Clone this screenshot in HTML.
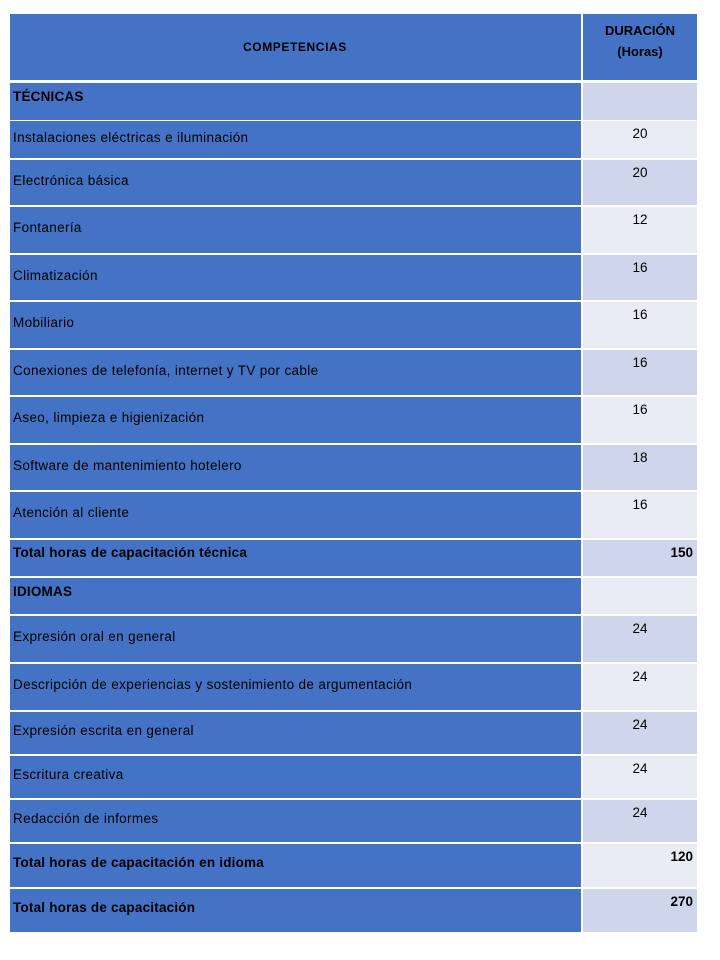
<!DOCTYPE html>
<html><head><meta charset="utf-8"><style>
body{margin:0;width:720px;height:960px;background:#fff;font-family:"Liberation Sans",sans-serif;font-size:13.5px;color:#000;position:relative;overflow:hidden}
.c{position:absolute;box-sizing:border-box}
.l{left:10px;width:571px;background:#4472C4}
.r{left:583px;width:114px}
.d{background:#CFD5EA}.e{background:#E9EBF5}
.t{position:absolute;white-space:nowrap}
.lt{letter-spacing:0.35px}
</style></head><body>
<div class="c l" style="top:14px;height:66px"></div>
<div class="c r" style="top:14px;height:66px;background:#4472C4"></div>
<div class="t" style="left:243px;top:40px;font-weight:bold;font-size:12px;letter-spacing:0.6px">COMPETENCIAS</div>
<div class="t" style="left:583px;width:114px;text-align:center;top:20px;font-weight:bold;font-size:13px;line-height:21px">DURACIÓN<br>(Horas)</div>
<div id="rows"></div>
<script>
var R=[
[83,120,"TÉCNICAS","",1],
[121,158,"Instalaciones eléctricas e iluminación","20",0],
[160,205,"Electrónica básica","20",0],
[207,253,"Fontanería","12",0],
[255,300,"Climatización","16",0],
[302,348,"Mobiliario","16",0],
[350,395,"Conexiones de telefonía, internet y TV por cable","16",0],
[397,443,"Aseo, limpieza e higienización","16",0],
[445,490,"Software de mantenimiento hotelero","18",0],
[492,538,"Atención al cliente","16",0],
[540,576,"Total horas de capacitación técnica","150",2],
[578,614,"IDIOMAS","",1],
[616,662,"Expresión oral en general","24",0],
[664,710,"Descripción de experiencias y sostenimiento de argumentación","24",0],
[712,754,"Expresión escrita en general","24",0],
[756,798,"Escritura creativa","24",0],
[800,842,"Redacción de informes","24",0],
[844,887,"Total horas de capacitación en idioma","120",2],
[889,932,"Total horas de capacitación","270",2]];
var h="";
R.forEach(function(r,i){
var top=r[0],ht=r[1]-r[0];
h+='<div class="c l" style="top:'+top+'px;height:'+ht+'px"></div>';
h+='<div class="c r '+(i%2?'e':'d')+'" style="top:'+top+'px;height:'+ht+'px"></div>';
var ty;
if(r[4]==1) ty=top+6; else if(r[4]==2) ty=top+Math.round(ht/2)-11; else ty=top+Math.round(ht/2)-10;
if(r[4]==2 && ht<40) ty=top+5;
h+='<div class="t lt" style="left:13px;top:'+ty+'px;'+(r[4]?'font-weight:bold;letter-spacing:0.2px':'')+'">'+r[2]+'</div>';
if(r[3]){
 if(r[4]==2) h+='<div class="t" style="right:27px;top:'+(top+5)+'px;font-weight:bold">'+r[3]+'</div>';
 else h+='<div class="t" style="left:583px;width:114px;text-align:center;top:'+(top+5)+'px">'+r[3]+'</div>';
}
});
document.getElementById("rows").innerHTML=h;
</script>
</body></html>
